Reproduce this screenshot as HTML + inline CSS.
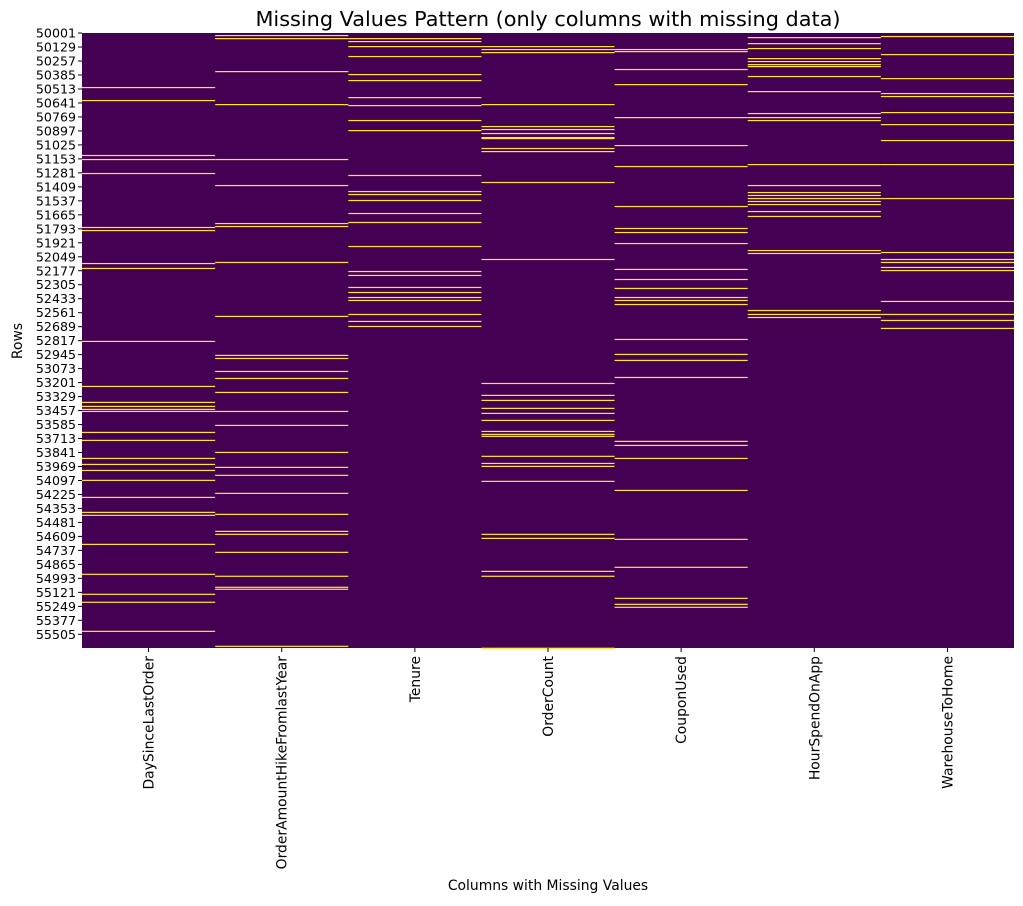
<!DOCTYPE html>
<html><head><meta charset="utf-8">
<style>
body{margin:0;background:#fff;width:1023px;height:902px;overflow:hidden;font-family:"DejaVu Sans","Liberation Sans",sans-serif;}
text{font-family:"DejaVu Sans","Liberation Sans",sans-serif;}
</style></head>
<body>
<svg id="chart" width="1023" height="902" xmlns="http://www.w3.org/2000/svg">
<text x="548" y="26" font-size="20.8" text-anchor="middle" fill="#000">Missing Values Pattern (only columns with missing data)</text>
<text transform="translate(22,341) rotate(-90)" font-size="13.9" text-anchor="middle">Rows</text>
<text x="548" y="890" font-size="13.9" text-anchor="middle">Columns with Missing Values</text>
<g id="plot"></g>
<g id="yticks"></g>
<g id="xticks"></g>
</svg>
<script>
const columns = ["DaySinceLastOrder","OrderAmountHikeFromlastYear","Tenure","OrderCount","CouponUsed","HourSpendOnApp","WarehouseToHome"];
const firstRowId = 50001;
const totalRows = 5630;
const tickStep = 128;
const missingDay = [494,613,1116,1153,1281,1775,1803,2105,2150,2818,3230,3376,3413,3440,3459,3651,3724,3889,3944,3999,4090,4246,4383,4410,4676,4950,5133,5206,5472];
const missingHike = [18,46,348,650,1153,1391,1739,1766,2095,2589,2946,2974,3093,3157,3285,3459,3587,3834,3971,4044,4209,4401,4557,4584,4749,4968,5069,5087,5609];
const missingTenure = [46,73,119,210,375,430,586,659,796,888,1299,1446,1473,1528,1647,1729,1949,2178,2214,2324,2370,2416,2443,2571,2635,2681];
const missingOrder = [119,146,174,650,851,878,915,952,961,1052,1080,1363,2068,3203,3312,3358,3431,3477,3541,3642,3669,3687,3870,3935,3962,4099,4584,4621,4923,4968,5627];
const missingCoupon = [146,165,329,467,769,1025,1217,1583,1784,1821,1922,2159,2251,2333,2416,2443,2480,2800,2937,2992,3148,3733,3770,3889,4182,4630,4886,5170,5225,5252];
const missingHour = [37,92,137,229,256,284,302,393,531,732,769,796,1199,1391,1455,1482,1510,1537,1565,1629,1674,1986,2013,2535,2571,2599];
const missingWarehouse = [27,192,412,549,576,723,833,979,1199,1510,2004,2068,2095,2141,2169,2452,2571,2626,2699];
const missingByColumn = [missingDay,missingHike,missingTenure,missingOrder,missingCoupon,missingHour,missingWarehouse];

const NS="http://www.w3.org/2000/svg";
const X0=82,X1=1014,Y0=33,Y1=648;
const colW=(X1-X0)/columns.length;
const rowH=(Y1-Y0)/totalRows;
const yScale=r=>Y0+r*rowH;
const xScale=i=>X0+i*colW;
const plot=document.getElementById('plot');
const bg=document.createElementNS(NS,'rect');
bg.setAttribute('x',X0);bg.setAttribute('y',Y0);bg.setAttribute('width',X1-X0);bg.setAttribute('height',Y1-Y0);bg.setAttribute('fill','#440154');


plot.appendChild(bg);
missingByColumn.forEach((rows,ci)=>{
  rows.forEach(r=>{
    const rc=document.createElementNS(NS,'rect');
    rc.setAttribute('x',xScale(ci));rc.setAttribute('width',colW);
    rc.setAttribute('y',yScale(r));rc.setAttribute('height',Math.max(rowH,1.2));
    rc.setAttribute('fill','#fde725');
    
    
    plot.appendChild(rc);
  });
});
const yt=document.getElementById('yticks');
for(let r=0;r<totalRows;r+=tickStep){
  const y=yScale(r+0.5);
  const l=document.createElementNS(NS,'line');
  l.setAttribute('x1',X0-4);l.setAttribute('x2',X0);l.setAttribute('y1',y);l.setAttribute('y2',y);l.setAttribute('stroke','#000');
  
  
  yt.appendChild(l);
  const t=document.createElementNS(NS,'text');
  t.setAttribute('x',X0-6);t.setAttribute('y',y+4.5);t.setAttribute('font-size','12.6');t.setAttribute('text-anchor','end');
  t.textContent=firstRowId+r;
  
  
  yt.appendChild(t);
}
const xt=document.getElementById('xticks');
columns.forEach((c,i)=>{
  const x=xScale(i)+colW/2;
  const l=document.createElementNS(NS,'line');
  l.setAttribute('x1',x);l.setAttribute('x2',x);l.setAttribute('y1',Y1);l.setAttribute('y2',Y1+4);l.setAttribute('stroke','#000');
  
  
  xt.appendChild(l);
  const t=document.createElementNS(NS,'text');
  t.setAttribute('transform','translate('+(x+5)+','+(Y1+8)+') rotate(-90)');
  t.setAttribute('font-size','13.9');t.setAttribute('text-anchor','end');
  t.textContent=c;
  
  
  xt.appendChild(t);
});
</script>
</body></html>
